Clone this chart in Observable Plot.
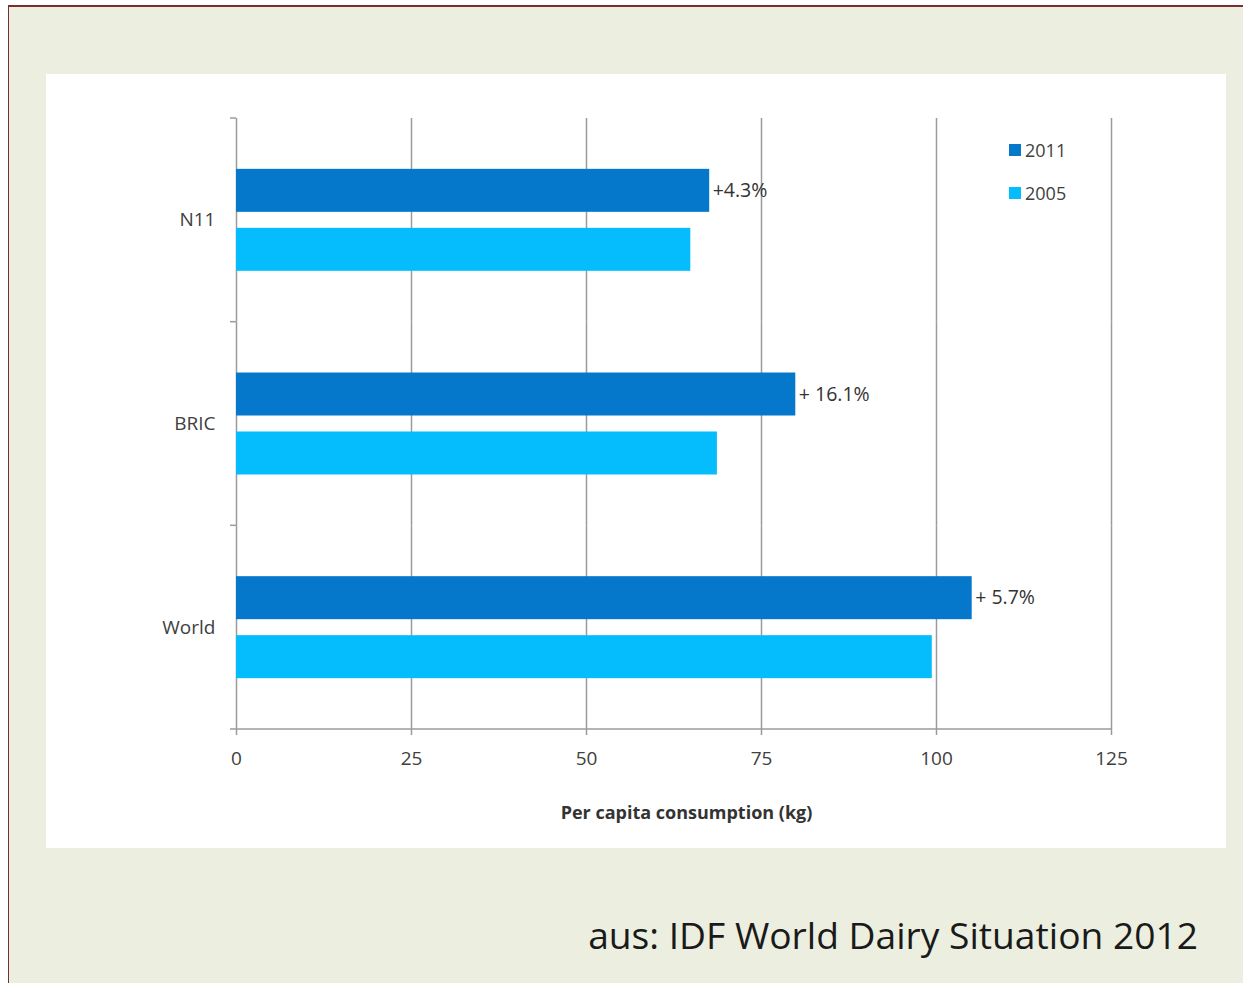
<!DOCTYPE html>
<html><head><meta charset="utf-8">
<script src="https://cdn.jsdelivr.net/npm/d3@7"></script>
<script src="https://cdn.jsdelivr.net/npm/@observablehq/plot@0.6"></script>
<style>
html,body{margin:0;padding:0;background:#fff;}
body{width:1243px;height:983px;position:relative;overflow:hidden;font-family:"Open Sans",sans-serif;}
#bg{position:absolute;left:8px;top:5px;right:0;bottom:0;background:#ECEFE0;border-left:1px solid #7B2E2E;border-top:2px solid #7B2E2E;}
#panel{position:absolute;left:46px;top:74px;width:1180px;height:774px;background:#fff;}
#panel svg{position:absolute;left:0;top:0;}
.leg{position:absolute;left:963px;height:12px;display:flex;align-items:center;font-size:18px;color:#404040;white-space:nowrap;}
.leg i{display:inline-block;width:12px;height:12px;margin-right:4px;}
.leg span{line-height:12px;}
#xtitle{position:absolute;left:640.5px;top:728px;transform:translateX(-50%);font-weight:bold;font-size:18px;line-height:20px;color:#333;white-space:nowrap;}
#caption{position:absolute;right:45px;top:915px;font-size:36px;line-height:40px;color:#1a1a1a;white-space:nowrap;}
</style>
</head><body>
<div id="bg"></div>
<div id="panel"></div>
<div id="caption">aus: IDF World Dairy Situation 2012</div>
<script>
const categories = ["N11", "BRIC", "World"];
const series = ["2011", "2005"];
const values2011 = [67.6, 79.9, 105.1];
const values2005 = [64.9, 68.7, 99.4];
const growthLabels = ["+4.3%", "+ 16.1%", "+ 5.7%"];
const xTicks = [0, 25, 50, 75, 100, 125];
const colors = ["#0578CB", "#05BDFD"];
const xTitle = "Per capita consumption (kg)";

const data = categories.flatMap((c, i) => [
  {cat: c, year: series[0], value: values2011[i]},
  {cat: c, year: series[1], value: values2005[i]}
]);
const labels = categories.map((c, i) => ({cat: c, year: series[0], value: values2011[i], label: growthLabels[i]}));

const grid = "#9b9b9b";
const chart = Plot.plot({
  width: 1180, height: 774,
  marginLeft: 190, marginRight: 115, marginTop: 44, marginBottom: 119,
  style: {fontFamily: "'Open Sans', sans-serif", fontSize: "19px", color: "#404040", background: "transparent", overflow: "visible"},
  x: {domain: [0, 125]},
  fy: {domain: categories, padding: 0, round: false},
  y: {domain: series, paddingInner: 0.271, paddingOuter: 0.862, round: false, axis: null},
  color: {domain: series, range: colors},
  marks: [
    Plot.ruleX(xTicks, {stroke: grid, strokeWidth: 1.5}),
    Plot.barX(data, {fy: "cat", y: "year", x: "value", fill: "year"}),
    Plot.text(labels, {fy: "cat", y: "year", x: "value", text: "label", textAnchor: "start", dx: 3, fill: "#333", fontSize: 19.5}),
    Plot.axisX({ticks: xTicks, tickSize: 6, tickPadding: 16, stroke: grid, strokeWidth: 1.5, fill: "#404040", label: null, tickFormat: d => String(d)}),
    Plot.axisFy({anchor: "left", tickSize: 0, tickPadding: 21, fill: "#404040", label: null})
  ]
});
document.getElementById("panel").appendChild(chart);

// band boundary ticks on the left axis + bottom axis line, via the plot's own scales
try {
  const fy = chart.scale("fy");
  const xs = chart.scale("x");
  const x0 = xs.apply(0), x1 = xs.apply(xTicks[xTicks.length - 1]);
  const last = categories[categories.length - 1];
  const bounds = categories.map(c => fy.apply(c)).concat([fy.apply(last) + fy.bandwidth]);
  d3.select(chart).append("g").attr("stroke", grid).attr("stroke-width", 1.5)
    .selectAll("line").data(bounds).join("line")
    .attr("x1", x0 - 6)
    .attr("x2", (d, i) => i === bounds.length - 1 ? x1 : x0)
    .attr("y1", d => d).attr("y2", d => d);
} catch (e) { console.error(e); }

// legend
const panel = document.getElementById("panel");
series.forEach((s, i) => {
  const d = document.createElement("div");
  d.className = "leg";
  d.style.top = (70 + i * 43) + "px";
  d.innerHTML = `<i style="background:${colors[i]}"></i><span>${s}</span>`;
  panel.appendChild(d);
});
const t = document.createElement("div");
t.id = "xtitle"; t.textContent = xTitle;
panel.appendChild(t);

// fit caption to reference width
const cap = document.getElementById("caption");
const w = cap.getBoundingClientRect().width;
const fs = 36 * 610 / w;
cap.style.fontSize = fs + "px";
</script>
</body></html>
